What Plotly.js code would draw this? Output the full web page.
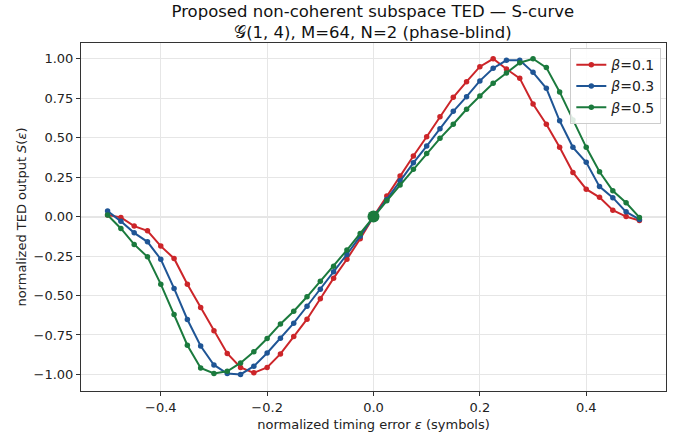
<!DOCTYPE html>
<html>
<head>
<meta charset="utf-8">
<script src="https://cdn.plot.ly/plotly-3.0.1.min.js"></script>
<style>html,body{margin:0;padding:0;background:#fff;}#chart{width:678px;height:435px;}</style>
</head>
<body>
<div id="chart"></div>
<script>
const eps = [-0.5,-0.475,-0.45,-0.425,-0.4,-0.375,-0.35,-0.325,-0.3,-0.275,-0.25,-0.225,-0.2,-0.175,-0.15,-0.125,-0.1,-0.075,-0.05,-0.025,0,
  0.025,0.05,0.075,0.1,0.125,0.15,0.175,0.2,0.225,0.25,0.275,0.3,0.325,0.35,0.375,0.4,0.425,0.45,0.475,0.5];
const s_b01 = [0.01,-0.005,-0.06,-0.09,-0.187,-0.265,-0.428,-0.576,-0.724,-0.867,-0.956,-0.99,-0.956,-0.87,-0.76,-0.65,-0.52,-0.39,-0.27,-0.14,0,
  0.13,0.257,0.384,0.506,0.633,0.756,0.855,0.95,1.0,0.935,0.876,0.713,0.585,0.439,0.28,0.174,0.122,0.041,0.0,-0.025];
const s_b03 = [0.035,-0.03,-0.103,-0.16,-0.27,-0.455,-0.652,-0.82,-0.94,-0.994,-1.0,-0.948,-0.864,-0.77,-0.675,-0.568,-0.46,-0.35,-0.24,-0.124,0,
  0.109,0.227,0.341,0.447,0.557,0.667,0.76,0.86,0.94,0.99,0.99,0.914,0.813,0.607,0.439,0.344,0.19,0.12,0.03,-0.018];
const s_b05 = [0.01,-0.075,-0.176,-0.255,-0.428,-0.62,-0.815,-0.959,-0.994,-0.98,-0.927,-0.857,-0.772,-0.68,-0.6,-0.508,-0.409,-0.314,-0.212,-0.107,0,
  0.1,0.2,0.3,0.4,0.496,0.585,0.68,0.764,0.845,0.91,0.975,1.0,0.944,0.79,0.612,0.439,0.284,0.164,0.088,-0.005];
const seriesNames = ['<i>β</i>=0.1','<i>β</i>=0.3','<i>β</i>=0.5'];
const seriesVals = [s_b01, s_b03, s_b05];
const colors = ['#cc2529','#1f5595','#1b7a3d'];
const lockPoint = {x:[0], y:[0]};

const traces = seriesVals.map((v,i)=>({
  x: eps, y: v, type:'scatter', mode:'lines+markers', name: seriesNames[i],
  line:{color:colors[i], width:2}, marker:{color:colors[i], size:5.5}
}));
traces.push({x:lockPoint.x, y:lockPoint.y, type:'scatter', mode:'markers', showlegend:false,
  marker:{color:colors[2], size:12}, hoverinfo:'skip'});

const font = {family:'DejaVu Sans, sans-serif', size:13, color:'#222'};
const layout = {
  width:678, height:435,
  margin:{l:81, r:12, t:43, b:44},
  paper_bgcolor:'#fff', plot_bgcolor:'#fff',
  font: font,
  title:{text:'Proposed non-coherent subspace TED — S-curve<br>𝒢(1, 4), M=64, N=2 (phase-blind)',
    x:0.55, xanchor:'center', y:0.962, yanchor:'top', font:{family:'DejaVu Sans, sans-serif', size:16.5, color:'#111'}},
  xaxis:{range:[-0.55,0.55], tickvals:[-0.4,-0.2,0,0.2,0.4], tickformat:'.1f',
    showgrid:true, gridcolor:'#e6e6e6', zeroline:false,
    showline:true, linecolor:'#333', linewidth:1, mirror:true,
    ticks:'outside', ticklen:4, tickcolor:'#333',
    title:{text:'normalized timing error <i>ε</i> (symbols)', standoff:6, font:font}},
  yaxis:{range:[-1.105,1.1], dtick:0.25, tick0:0, tickformat:'.2f',
    showgrid:true, gridcolor:'#e6e6e6', zeroline:false,
    showline:true, linecolor:'#333', linewidth:1, mirror:true,
    ticks:'outside', ticklen:4, tickcolor:'#333',
    title:{text:'normalized TED output <i>S</i>(<i>ε</i>)', standoff:4, font:font}},
  shapes:[
    {type:'line', xref:'paper', x0:0, x1:1, yref:'y', y0:0, y1:0, line:{color:'#999', width:1.2}, layer:'below'},
    {type:'line', yref:'paper', y0:0, y1:1, xref:'x', x0:0, x1:0, line:{color:'#999', width:1, dash:'dash'}, layer:'below'}
  ],
  legend:{x:0.992, xanchor:'right', y:0.985, yanchor:'top', bgcolor:'rgba(255,255,255,0.85)',
    bordercolor:'#ccc', borderwidth:1, font:{family:'DejaVu Sans, sans-serif', size:14, color:'#222'},
    tracegroupgap:2}
};
Plotly.newPlot('chart', traces, layout, {displayModeBar:false, staticPlot:true});
</script>
</body>
</html>
